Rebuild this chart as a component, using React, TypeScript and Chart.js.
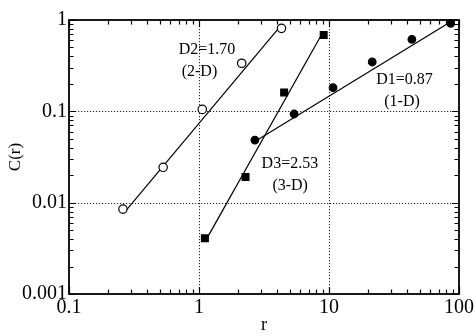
import React, { useEffect, useRef } from 'react';
import { Chart, registerables } from 'chart.js';

Chart.register(...registerables);

const SERIF = '"Liberation Serif", "Times New Roman", serif';

// Axis decades and their labels
const xTickValues = [0.1, 1, 10, 100];
const xTickLabels = ['0.1', '1', '10', '100'];
const yTickValues = [0.001, 0.01, 0.1, 1];
const yTickLabels = ['0.001', '0.01', '0.1', '1'];

// 2-D set (open circles)
const d2R = [0.26, 0.53, 1.06, 2.13, 4.31];
const d2C = [0.0085, 0.0244, 0.105, 0.336, 0.81];

// 3-D set (filled squares)
const d3R = [1.11, 2.28, 4.52, 9.1];
const d3C = [0.00407, 0.0191, 0.161, 0.685];

// 1-D set (filled circles)
const d1R = [2.69, 5.39, 10.74, 21.5, 43.4, 86.4];
const d1C = [0.0485, 0.0935, 0.1815, 0.347, 0.615, 0.92];

// Power-law fits C = c0 * (r / r0)^D, order: 2-D, 3-D, 1-D
const fitDims = [1.7, 2.53, 0.87];
const fitAnchorR = [1.067, 3.155, 15.24];
const fitAnchorC = [0.0824, 0.0522, 0.2113];
const fitStartR = [0.264, 1.111, 2.69];
const fitEndR = [4.31, 8.95, 86.4];

// Annotation text and where it sits (data coordinates of its left-middle)
const labelTexts = ['D2=1.70', '(2-D)', 'D1=0.87', '(1-D)', 'D3=2.53', '(3-D)'];
const labelR = [0.698, 0.736, 23.1, 26.6, 3.03, 3.67];
const labelC = [0.469, 0.27, 0.22, 0.1265, 0.0265, 0.0152];

const toPoints = (xs: number[], ys: number[]) => xs.map((x, i) => ({ x, y: ys[i] }));

const fitLine = (i: number) => {
  const f = (r: number) => fitAnchorC[i] * Math.pow(r / fitAnchorR[i], fitDims[i]);
  return [
    { x: fitStartR[i], y: f(fitStartR[i]) },
    { x: fitEndR[i], y: f(fitEndR[i]) },
  ];
};

const minorValues = (lo: number, hi: number) => {
  const out: number[] = [];
  for (let d = lo; d < hi; d *= 10) {
    for (let m = 2; m <= 9; m++) out.push(m * d);
  }
  return out;
};

const framePlugin = {
  id: 'logFrame',
  beforeDatasetsDraw(chart: any) {
    const { ctx, chartArea: a, scales } = chart;
    const xs = scales.x;
    const ys = scales.y;
    ctx.save();

    // dotted grid at the inner decades
    ctx.strokeStyle = '#222';
    ctx.lineWidth = 1;
    ctx.setLineDash([1.2, 1.8]);
    xTickValues.slice(1, -1).forEach((v) => {
      const px = Math.round(xs.getPixelForValue(v)) + 0.5;
      ctx.beginPath();
      ctx.moveTo(px, a.top);
      ctx.lineTo(px, a.bottom);
      ctx.stroke();
    });
    yTickValues.slice(1, -1).forEach((v) => {
      const py = Math.round(ys.getPixelForValue(v)) + 0.5;
      ctx.beginPath();
      ctx.moveTo(a.left, py);
      ctx.lineTo(a.right, py);
      ctx.stroke();
    });
    ctx.setLineDash([]);

    // inward ticks on all four sides
    ctx.strokeStyle = '#000';
    ctx.lineWidth = 1.2;
    const xt = (v: number, len: number) => {
      const px = Math.round(xs.getPixelForValue(v)) + 0.5;
      ctx.beginPath();
      ctx.moveTo(px, a.bottom);
      ctx.lineTo(px, a.bottom - len);
      ctx.moveTo(px, a.top);
      ctx.lineTo(px, a.top + len);
      ctx.stroke();
    };
    const yt = (v: number, len: number) => {
      const py = Math.round(ys.getPixelForValue(v)) + 0.5;
      ctx.beginPath();
      ctx.moveTo(a.left, py);
      ctx.lineTo(a.left + len, py);
      ctx.moveTo(a.right, py);
      ctx.lineTo(a.right - len, py);
      ctx.stroke();
    };
    minorValues(xTickValues[0], xTickValues[xTickValues.length - 1]).forEach((v) => xt(v, 4.5));
    xTickValues.forEach((v) => xt(v, 7));
    minorValues(yTickValues[0], yTickValues[yTickValues.length - 1]).forEach((v) => yt(v, 4.5));
    yTickValues.forEach((v) => yt(v, 7));

    // frame
    ctx.lineWidth = 1.8;
    ctx.strokeRect(a.left, a.top, a.right - a.left, a.bottom - a.top);
    ctx.restore();
  },
  afterDatasetsDraw(chart: any) {
    const { ctx, scales } = chart;
    ctx.save();
    ctx.fillStyle = '#000';
    ctx.font = `16px ${SERIF}`;
    ctx.textAlign = 'left';
    ctx.textBaseline = 'middle';
    labelTexts.forEach((t, i) => {
      ctx.fillText(t, scales.x.getPixelForValue(labelR[i]), scales.y.getPixelForValue(labelC[i]));
    });
    ctx.restore();
  },
};

export default function App() {
  const ref = useRef<HTMLCanvasElement | null>(null);

  useEffect(() => {
    if (!ref.current) return;
    const pointBase = {
      showLine: false,
      borderColor: '#000',
      borderWidth: 1.2,
      clip: false as const,
    };
    const fitBase = {
      showLine: true,
      borderColor: '#000',
      borderWidth: 1.2,
      pointRadius: 0,
      fill: false,
    };
    const chart = new Chart(ref.current, {
      type: 'scatter',
      data: {
        datasets: [
          { ...pointBase, label: '2-D', data: toPoints(d2R, d2C), pointStyle: 'circle', pointRadius: 4.2, backgroundColor: '#fff' },
          { ...pointBase, label: '3-D', data: toPoints(d3R, d3C), pointStyle: 'rect', pointRadius: 4.8, backgroundColor: '#000' },
          { ...pointBase, label: '1-D', data: toPoints(d1R, d1C), pointStyle: 'circle', pointRadius: 3.8, backgroundColor: '#000' },
          { ...fitBase, label: 'fit 2-D', data: fitLine(0) },
          { ...fitBase, label: 'fit 3-D', data: fitLine(1) },
          { ...fitBase, label: 'fit 1-D', data: fitLine(2) },
        ],
      },
      options: {
        animation: false,
        responsive: false,
        devicePixelRatio: 1,
        layout: { padding: { left: 0, top: 20, right: 16, bottom: 0 } },
        plugins: { legend: { display: false }, tooltip: { enabled: false } },
        scales: {
          x: {
            type: 'logarithmic',
            min: xTickValues[0],
            max: xTickValues[xTickValues.length - 1],
            grid: { display: false, drawTicks: false },
            border: { display: false },
            afterBuildTicks: (s: any) => {
              s.ticks = xTickValues.map((value) => ({ value }));
            },
            afterFit: (s: any) => {
              s.height = 42;
            },
            ticks: {
              autoSkip: false,
              maxRotation: 0,
              padding: 2,
              color: '#000',
              font: { family: SERIF, size: 20 },
              callback: (v: any) => {
                const i = xTickValues.indexOf(Number(v));
                return i >= 0 ? xTickLabels[i] : '';
              },
            },
            title: {
              display: true,
              text: 'r',
              color: '#000',
              font: { family: SERIF, size: 18 },
              padding: { top: 0, bottom: 0 },
            },
          },
          y: {
            type: 'logarithmic',
            min: yTickValues[0],
            max: yTickValues[yTickValues.length - 1],
            grid: { display: false, drawTicks: false },
            border: { display: false },
            afterBuildTicks: (s: any) => {
              s.ticks = yTickValues.map((value) => ({ value }));
            },
            afterFit: (s: any) => {
              s.width = 69;
            },
            ticks: {
              autoSkip: false,
              padding: 2,
              color: '#000',
              font: { family: SERIF, size: 20 },
              callback: (v: any) => {
                const i = yTickValues.indexOf(Number(v));
                return i >= 0 ? yTickLabels[i] : '';
              },
            },
            title: {
              display: true,
              text: 'C(r)',
              color: '#000',
              font: { family: SERIF, size: 17 },
              padding: { top: 5, bottom: 0 },
            },
          },
        },
      },
      plugins: [framePlugin],
    } as any);
    return () => chart.destroy();
  }, []);

  return (
    <div style={{ position: 'fixed', left: 0, top: 0, width: 476, height: 336, background: '#fff' }}>
      <canvas ref={ref} width={476} height={336} style={{ display: 'block' }} />
    </div>
  );
}
